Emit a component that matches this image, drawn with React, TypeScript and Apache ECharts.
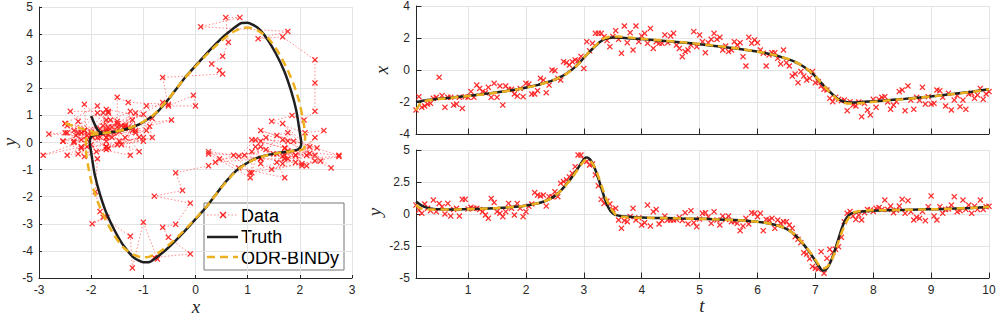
import React, { useEffect, useRef } from 'react';
import * as echarts from 'echarts';

// Noisy samples, taken at t = 0.10, 0.15, ..., 10.00 (rows of 10 = 0.5 time units)
const DATA_T0 = 0.1;
const DATA_DT = 0.05;
const dataX = [
  -2.50, -1.67, -2.33, -2.25, -2.13, -2.08, -1.77, -1.71, -0.46, -1.60,
  -2.33, -1.71, -1.71, -2.19, -2.13, -1.71, -2.40, -1.67, -1.71, -1.35,
  -1.71, -0.94, -1.15, -1.35, -1.42, -1.08, -1.71, -0.83, -1.71, -1.00,
  -2.19, -1.00, -1.21, -1.21, -1.50, -1.63, -1.15, -1.67, -0.83, -0.88,
  -1.50, -1.50, -1.29, -0.52, -0.63, -1.42, -0.94, 0.00, -0.04, -0.52,
  -0.63, 0.52, 0.46, 0.31, 0.52, 0.63, 0.58, 0.85, 0.10, 1.77,
  1.20, 1.67, 2.29, 2.29, 2.29, 2.08, 1.85, 1.46, 2.10, 2.46,
  1.92, 1.04, 2.75, 1.71, 2.33, 1.25, 2.75, 1.77, 2.13, 2.29,
  1.67, 2.60, 1.35, 1.77, 1.67, 1.67, 2.19, 1.71, 2.13, 2.29,
  1.56, 1.35, 0.83, 1.15, 1.25, 1.56, 2.40, 1.46, 2.19, 1.77,
  1.08, 1.71, 1.92, 2.29, 1.92, 2.04, 1.25, 1.50, 1.15, 1.25,
  1.77, 1.56, 1.71, 0.83, 0.25, 2.04, 1.67, 1.88, 1.71, 1.25,
  1.05, 0.25, 0.94, 1.08, 1.08, 0.73, 0.38, 1.25, 0.46, 0.25,
  -0.38, -0.25, -0.79, -0.10, -0.38, -0.63, -0.52, -0.10, -0.79, -0.73,
  -1.00, -1.21, -1.25, -1.77, -1.98, -1.70, -1.83, -1.92, -1.88, -2.54,
  -1.98, -2.19, -2.25, -2.00, -2.92, -2.08, -2.50, -2.81, -1.83, -2.33,
  -1.83, -1.71, -1.67, -2.00, -2.46, -2.19, -1.98, -1.35, -1.25, -2.54,
  -1.00, -1.88, -2.46, -1.71, -1.90, -1.08, -2.13, -1.67, -2.13, -2.08,
  -1.25, -1.29, -1.71, -2.25, -1.46, -2.50, -1.88, -1.60, -2.29, -1.88,
  -2.46, -1.50, -1.46, -1.77, -1.56, -1.15, -1.83, -1.50, -1.35,
];
const dataY = [
  0.70, 0.31, 0.05, 0.78, 0.45, 0.26, 1.09, 0.18, 0.83, 0.57,
  0.00, 0.83, -0.16, 0.36, 0.44, -0.16, 1.15, 1.15, 0.40, 0.52,
  0.44, 0.44, 0.36, 0.18, -0.08, -0.34, 1.22, 0.89, 0.18, 0.05,
  -0.21, 0.18, 0.83, 0.44, -0.08, 0.83, 0.44, -0.21, 0.18, 0.60,
  0.78, 1.67, 1.48, 1.41, 1.48, 0.62, 1.35, 1.35, 1.74, 1.35,
  2.40, 2.53, 2.66, 2.90, 3.18, 3.70, 4.61, 4.61, 4.27, 4.10,
  3.83, 3.90, 3.05, 2.20, 1.15, 0.83, 1.00, 0.78, 0.36, 0.44,
  -0.47, -1.12, -0.52, -0.60, -0.20, 0.44, -0.47, -0.30, -0.86, -0.68,
  0.70, -0.94, 0.18, 0.36, -0.78, -0.50, -0.16, -0.47, -0.47, -0.47,
  -0.42, -0.26, -0.50, 0.10, -0.78, 0.26, -0.68, -0.99, -0.40, 0.05,
  0.10, -0.21, -0.73, 0.18, -0.47, -0.86, -0.16, -0.42, -0.16, -0.60,
  -0.60, -0.73, -1.30, -0.94, -0.34, -0.78, 0.10, 0.05, -0.21, 0.05,
  -1.30, -0.42, -0.47, -0.34, -1.12, -0.47, -0.73, -0.60, -0.60, -0.86,
  -1.12, -1.77, -1.98, -2.24, -3.02, -3.13, -3.50, -4.11, -4.24, -4.30,
  -2.94, -4.63, -3.46, -2.76, -3.00, -2.76, -2.55, -1.82, -0.60, 0.05,
  0.20, -0.16, -0.42, -0.08, -0.47, 0.10, 0.36, 0.31, 0.20, 0.44,
  0.50, 0.36, 1.09, 0.36, 0.62, 0.10, 0.30, 0.62, 1.15, 0.05,
  1.04, 0.18, -0.47, -0.26, -0.34, 0.20, -0.52, 0.57, 1.41, -0.16,
  -0.47, 0.57, 0.05, 0.36, 0.40, 0.70, 1.35, 0.18, 0.26, 1.09,
  0.36, 0.70, 0.05, 0.62, 0.36, 1.09, 0.36, 0.57, 0.60,
];

// Truth trajectory
const truthT = [
  0.10, 0.20, 0.30, 0.40, 0.50, 0.70, 0.91, 1.21, 1.51, 1.81,
  2.01, 2.21, 2.31, 2.41, 2.46, 2.51, 2.56, 2.61, 2.66, 2.71,
  2.76, 2.81, 2.86, 2.91, 2.95, 2.99, 3.03, 3.06, 3.11, 3.16,
  3.21, 3.26, 3.31, 3.36, 3.41, 3.46, 3.51, 3.56, 3.66, 3.76,
  3.90, 4.10, 4.40, 4.70, 5.00, 5.30, 5.60, 5.90, 6.10, 6.30,
  6.40, 6.50, 6.55, 6.60, 6.65, 6.70, 6.75, 6.80, 6.85, 6.90,
  6.95, 7.00, 7.04, 7.08, 7.12, 7.15, 7.20, 7.25, 7.30, 7.35,
  7.40, 7.45, 7.50, 7.55, 7.60, 7.65, 7.75, 7.85, 8.00, 8.20,
  8.50, 8.80, 9.10, 9.40, 9.70, 10.00,
];
const truthX = [
  -2.00, -1.93, -1.88, -1.84, -1.80, -1.73, -1.65, -1.53, -1.39, -1.23,
  -1.09, -0.93, -0.82, -0.71, -0.65, -0.58, -0.50, -0.41, -0.31, -0.20,
  -0.07, 0.07, 0.23, 0.40, 0.56, 0.72, 0.88, 1.00, 1.18, 1.36,
  1.53, 1.70, 1.83, 1.93, 1.98, 2.01, 2.025, 2.025, 2.01, 1.99,
  1.96, 1.90, 1.82, 1.72, 1.61, 1.49, 1.36, 1.20, 1.08, 0.92,
  0.82, 0.71, 0.65, 0.58, 0.50, 0.41, 0.31, 0.20, 0.07, -0.07,
  -0.23, -0.40, -0.56, -0.72, -0.88, -1.00, -1.18, -1.36, -1.53, -1.70,
  -1.83, -1.93, -1.98, -2.01, -2.025, -2.025, -2.01, -1.99, -1.96, -1.90,
  -1.82, -1.72, -1.61, -1.49, -1.36, -1.20,
];
const truthY = [
  0.98, 0.66, 0.48, 0.40, 0.37, 0.35, 0.37, 0.41, 0.47, 0.56,
  0.66, 0.84, 0.98, 1.17, 1.30, 1.45, 1.64, 1.87, 2.12, 2.40,
  2.68, 2.98, 3.32, 3.66, 3.95, 4.20, 4.41, 4.42, 4.25, 3.86,
  3.32, 2.64, 1.92, 1.20, 0.62, 0.24, 0.02, -0.09, -0.17, -0.22,
  -0.26, -0.29, -0.32, -0.35, -0.38, -0.42, -0.47, -0.56, -0.66, -0.84,
  -0.98, -1.17, -1.30, -1.45, -1.64, -1.87, -2.12, -2.40, -2.68, -2.98,
  -3.32, -3.66, -3.95, -4.20, -4.41, -4.42, -4.25, -3.86, -3.32, -2.64,
  -1.92, -1.20, -0.62, -0.24, -0.02, 0.09, 0.17, 0.22, 0.26, 0.29,
  0.32, 0.35, 0.38, 0.42, 0.47, 0.56,
];

// ODR-BINDy estimate
const odrT = [
  0.10, 0.15, 0.20, 0.30, 0.40, 0.50, 0.70, 0.91, 1.21, 1.51,
  1.81, 2.01, 2.21, 2.31, 2.41, 2.46, 2.51, 2.56, 2.61, 2.66,
  2.71, 2.76, 2.81, 2.86, 2.91, 2.95, 2.99, 3.03, 3.06, 3.11,
  3.16, 3.21, 3.26, 3.31, 3.36, 3.41, 3.46, 3.51, 3.56, 3.66,
  3.76, 3.90, 4.10, 4.40, 4.70, 5.00, 5.30, 5.60, 5.90, 6.10,
  6.30, 6.40, 6.50, 6.55, 6.60, 6.65, 6.70, 6.75, 6.80, 6.85,
  6.90, 6.95, 7.00, 7.04, 7.08, 7.12, 7.15, 7.20, 7.25, 7.30,
  7.35, 7.40, 7.45, 7.50, 7.55, 7.60, 7.65, 7.75, 7.85, 8.00,
  8.20, 8.50, 8.80, 9.10, 9.40, 9.70, 10.00,
];
const odrX = [
  -2.50, -2.21, -1.99, -1.90, -1.85, -1.81, -1.74, -1.66, -1.54, -1.40,
  -1.24, -1.10, -0.94, -0.83, -0.72, -0.66, -0.59, -0.51, -0.42, -0.32,
  -0.21, -0.08, 0.06, 0.22, 0.39, 0.55, 0.72, 0.89, 1.01, 1.19,
  1.38, 1.56, 1.73, 1.88, 1.99, 2.05, 2.09, 2.10, 2.10, 2.08,
  2.04, 1.99, 1.92, 1.83, 1.73, 1.62, 1.50, 1.37, 1.21, 1.09,
  0.93, 0.83, 0.72, 0.66, 0.59, 0.51, 0.42, 0.32, 0.21, 0.08,
  -0.06, -0.22, -0.39, -0.55, -0.72, -0.89, -1.01, -1.19, -1.38, -1.56,
  -1.73, -1.88, -1.99, -2.05, -2.09, -2.10, -2.10, -2.08, -2.04, -1.99,
  -1.92, -1.83, -1.73, -1.62, -1.50, -1.37, -1.21,
];
const odrY = [
  0.71, 0.53, 0.40, 0.36, 0.36, 0.36, 0.35, 0.37, 0.41, 0.47,
  0.56, 0.66, 0.84, 0.98, 1.17, 1.30, 1.45, 1.63, 1.85, 2.10,
  2.37, 2.64, 2.93, 3.25, 3.57, 3.84, 4.08, 4.22, 4.24, 4.14,
  3.88, 3.42, 2.82, 2.16, 1.50, 0.95, 0.50, 0.16, -0.08, -0.22,
  -0.27, -0.29, -0.30, -0.32, -0.35, -0.38, -0.42, -0.47, -0.56, -0.66,
  -0.84, -0.98, -1.17, -1.30, -1.45, -1.63, -1.85, -2.10, -2.37, -2.64,
  -2.93, -3.25, -3.57, -3.84, -4.08, -4.22, -4.24, -4.14, -3.88, -3.42,
  -2.82, -2.16, -1.50, -0.95, -0.50, -0.16, 0.08, 0.22, 0.27, 0.29,
  0.30, 0.32, 0.35, 0.38, 0.42, 0.47, 0.56,
];

const legendLabels = ['Data', 'Truth', 'ODR-BINDy'];
const axisNames = { phaseX: 'x', phaseY: 'y', topY: 'x', bottomY: 'y', time: 't' };

const RED = '#ff1a1a';
const BLACK = '#1f1f1f';
const ORANGE = '#edb120';
const AXIS = '#262626';
const GRIDC = '#e3e3e3';
const CROSS = 'path://M0,1.5L1.5,0L5,3.5L8.5,0L10,1.5L6.5,5L10,8.5L8.5,10L5,6.5L1.5,10L0,8.5L3.5,5Z';
const SANS = 'Liberation Sans, Arial, sans-serif';
const SERIF = 'Liberation Serif, Times New Roman, serif';

export default function App() {
  const ref = useRef<HTMLDivElement>(null);

  useEffect(() => {
    if (!ref.current) return;
    const chart = echarts.init(ref.current, null, { renderer: 'svg' });

    const n = Math.min(dataX.length, dataY.length);
    const dataT = Array.from({ length: n }, (_, i) => Math.round((DATA_T0 + DATA_DT * i) * 100) / 100);
    const phase = dataT.map((_, i) => [dataX[i], dataY[i]]);
    const tsX = dataT.map((t, i) => [t, dataX[i]]);
    const tsY = dataT.map((t, i) => [t, dataY[i]]);
    const truthPhase = truthT.map((_, i) => [truthX[i], truthY[i]]);
    const truthTX = truthT.map((t, i) => [t, truthX[i]]);
    const truthTY = truthT.map((t, i) => [t, truthY[i]]);
    const odrPhase = odrT.map((_, i) => [odrX[i], odrY[i]]);
    const odrTX = odrT.map((t, i) => [t, odrX[i]]);
    const odrTY = odrT.map((t, i) => [t, odrY[i]]);

    const labelStyle = { color: AXIS, fontSize: 12, fontFamily: SANS, margin: 6 };
    const base = (tickLen: number) => ({
      type: 'value',
      axisLine: { show: true, onZero: false, lineStyle: { color: AXIS, width: 1 } },
      axisTick: { show: true, inside: true, length: tickLen, lineStyle: { color: AXIS, width: 1 } },
      splitLine: { show: true, lineStyle: { color: GRIDC, width: 1 } },
    });
    const intLabel = (v: number) => (Math.abs(v - Math.round(v)) < 1e-6 ? String(Math.round(v)) : '');

    const dataSym = {
      symbol: CROSS,
      symbolSize: 6,
      itemStyle: { color: RED, opacity: 0.9 },
    };
    const truthLine = { type: 'line', showSymbol: false, smooth: 0.2, lineStyle: { color: BLACK, width: 2.5 }, z: 3 };
    const odrLine = { type: 'line', showSymbol: false, smooth: 0.2, lineStyle: { color: ORANGE, width: 2.5, type: [8, 5] }, z: 4 };

    const nameText = (text: string, x: number, y: number, rotate: boolean) => ({
      type: 'text', x, y, rotation: rotate ? Math.PI / 2 : 0, z: 50,
      style: { text, fontSize: 19, fontFamily: SERIF, fontStyle: 'italic', fill: AXIS, align: 'center', verticalAlign: 'middle' },
    });
    const legText = (text: string, x: number, y: number) => ({
      type: 'text', x, y,
      style: { text, fontSize: 18, fontFamily: SANS, fill: '#000', verticalAlign: 'middle', align: 'left' },
    });

    const lx = 204, ly = 203;
    const option: any = {
      animation: false,
      backgroundColor: '#ffffff',
      grid: [
        { left: 39, top: 7, width: 313, height: 271, containLabel: false, outerBoundsMode: 'none' },
        { left: 416, top: 6, width: 573, height: 128, containLabel: false, outerBoundsMode: 'none' },
        { left: 416, top: 150, width: 573, height: 128, containLabel: false, outerBoundsMode: 'none' },
      ],
      xAxis: [
        { ...base(3), gridIndex: 0, min: -3, max: 3, interval: 1, axisLabel: labelStyle },
        { ...base(5.5), gridIndex: 1, min: 0.1, max: 10, splitNumber: 10, minInterval: 1, maxInterval: 1, axisLabel: { show: false } },
        { ...base(5.5), gridIndex: 2, min: 0.1, max: 10, splitNumber: 10, minInterval: 1, maxInterval: 1,
          axisLabel: { ...labelStyle, formatter: intLabel, showMinLabel: false } },
      ],
      yAxis: [
        { ...base(3), gridIndex: 0, min: -5, max: 5, interval: 1, axisLabel: labelStyle },
        { ...base(5.5), gridIndex: 1, min: -4, max: 4, interval: 2, axisLabel: labelStyle },
        { ...base(5.5), gridIndex: 2, min: -5, max: 5, interval: 2.5, axisLabel: labelStyle },
      ],
      series: [
        {
          name: 'Data', type: 'line', xAxisIndex: 0, yAxisIndex: 0, data: phase, showAllSymbol: true, z: 2,
          ...dataSym,
          lineStyle: { color: 'rgba(255,40,40,0.55)', width: 1, type: [1.5, 2] },
        },
        { ...truthLine, name: 'Truth', xAxisIndex: 0, yAxisIndex: 0, data: truthPhase },
        { ...odrLine, name: 'ODR-BINDy', xAxisIndex: 0, yAxisIndex: 0, data: odrPhase },

        { name: 'Data', type: 'scatter', xAxisIndex: 1, yAxisIndex: 1, data: tsX, z: 2, ...dataSym },
        { ...truthLine, name: 'Truth', xAxisIndex: 1, yAxisIndex: 1, data: truthTX },
        { ...odrLine, name: 'ODR-BINDy', xAxisIndex: 1, yAxisIndex: 1, data: odrTX },

        { name: 'Data', type: 'scatter', xAxisIndex: 2, yAxisIndex: 2, data: tsY, z: 2, ...dataSym },
        { ...truthLine, name: 'Truth', xAxisIndex: 2, yAxisIndex: 2, data: truthTY },
        { ...odrLine, name: 'ODR-BINDy', xAxisIndex: 2, yAxisIndex: 2, data: odrTY },
      ],
      graphic: [
        nameText(axisNames.phaseX, 196, 306, false),
        nameText(axisNames.phaseY, 9, 142, true),
        nameText(axisNames.topY, 381, 70, true),
        nameText(axisNames.bottomY, 374, 212, true),
        nameText(axisNames.time, 702, 305.5, false),
        {
          type: 'group', z: 100, children: [
            { type: 'rect', shape: { x: lx, y: ly, width: 140, height: 67 }, style: { fill: '#ffffff', stroke: '#777777', lineWidth: 1 } },
            { type: 'line', shape: { x1: lx + 3, y1: ly + 12, x2: lx + 34, y2: ly + 12 }, style: { stroke: 'rgba(255,40,40,0.55)', lineWidth: 1, lineDash: [1.5, 2] } },
            { type: 'line', shape: { x1: lx + 16, y1: ly + 9, x2: lx + 22, y2: ly + 15 }, style: { stroke: RED, lineWidth: 1.2 } },
            { type: 'line', shape: { x1: lx + 22, y1: ly + 9, x2: lx + 16, y2: ly + 15 }, style: { stroke: RED, lineWidth: 1.2 } },
            { type: 'line', shape: { x1: lx + 3, y1: ly + 34, x2: lx + 34, y2: ly + 34 }, style: { stroke: BLACK, lineWidth: 2.5 } },
            { type: 'line', shape: { x1: lx + 3, y1: ly + 54, x2: lx + 34, y2: ly + 54 }, style: { stroke: ORANGE, lineWidth: 2.5, lineDash: [8, 5] } },
            legText(legendLabels[0], lx + 37, ly + 13),
            legText(legendLabels[1], lx + 37, ly + 34),
            legText(legendLabels[2], lx + 37, ly + 55),
          ],
        },
      ],
    };

    chart.setOption(option);
    return () => chart.dispose();
  }, []);

  return <div ref={ref} style={{ position: 'absolute', left: 0, top: 0, width: 997, height: 315 }} />;
}
